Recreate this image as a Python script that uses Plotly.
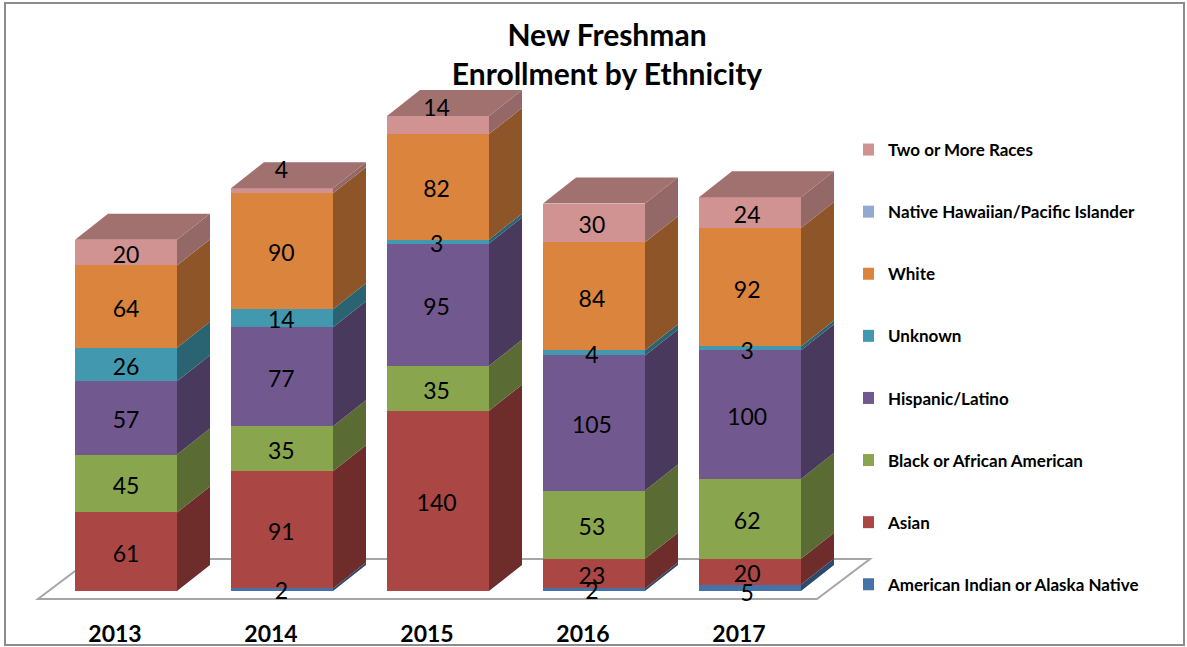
import plotly.graph_objects as go

years = ["2013", "2014", "2015", "2016", "2017"]
american_indian = [0, 2, 0, 2, 5]
asian = [61, 91, 140, 23, 20]
black = [45, 35, 35, 53, 62]
hispanic = [57, 77, 95, 105, 100]
unknown = [26, 14, 3, 4, 3]
white = [64, 90, 82, 84, 92]
hawaiian = [0, 0, 0, 0, 0]
two_more = [20, 4, 14, 30, 24]

series = [
    ("American Indian or Alaska Native", american_indian, "#4572A7", "#2D4A6D"),
    ("Asian", asian, "#AA4643", "#6E2D2B"),
    ("Black or African American", black, "#89A54E", "#5A6B33"),
    ("Hispanic/Latino", hispanic, "#71588F", "#49395D"),
    ("Unknown", unknown, "#4198AF", "#2A6372"),
    ("White", white, "#DB843D", "#8E5628"),
    ("Native Hawaiian/Pacific Islander", hawaiian, "#93A9CF", "#606E87"),
    ("Two or More Races", two_more, "#D19392", "#946866"),
]
top_colour = "#A0716F"

# label nudges (series name, year index) -> value units
label_nudge = {("Two or More Races", 2): 15, ("Two or More Races", 1): 18,
               ("American Indian or Alaska Native", 4): -2,
               ("American Indian or Alaska Native", 1): 1,
               ("American Indian or Alaska Native", 3): 1}

W, H = 1187, 647
PX_X = 156.0      # px per category
PX_Y = 1.287      # px per value unit
X0, Y0 = 126.0, 591.0  # pixel of first category, value 0
BOTTOM = 618.0
BAR_W = 102 / PX_X
DX = 33 / PX_X
DY = 26 / PX_Y
LABEL_DROP = 3.5 / PX_Y * PX_Y  # value units, centres the digits on their segment
LABEL_DRIFT = 0.7 / PX_X        # category units per category


def vx(px):
    return (px - X0) / PX_X


def vy(py):
    return (Y0 - py) / PX_Y


fig = go.Figure()
xs = list(range(len(years)))

for rank, (name, vals, col, dark) in enumerate(series):
    fig.add_trace(go.Bar(x=xs, y=vals, name=name, width=BAR_W, legendgroup=name,
                         legendrank=1000 - rank,
                         marker=dict(color=col, line=dict(width=0)), hoverinfo="skip"))

base = [0] * len(years)
lx, ly, lt = [], [], []
for name, vals, col, dark in series:
    px_, py_ = [], []
    for i, v in enumerate(vals):
        if v > 0:
            r = i + BAR_W / 2
            b, t = base[i], base[i] + v
            px_ += [r, r + DX, r + DX, r, r, None]
            py_ += [b, b + DY, t + DY, t, b, None]
            lx.append(i - i * LABEL_DRIFT)
            ly.append((b + t) / 2 - LABEL_DROP + label_nudge.get((name, i), 0))
            lt.append(str(v))
    if px_:
        fig.add_trace(go.Scatter(x=px_, y=py_, mode="lines", fill="toself", fillcolor=dark,
                                 line=dict(width=0), showlegend=False, hoverinfo="skip"))
    base = [a + c for a, c in zip(base, vals)]

# top caps
tx, ty = [], []
for i, t in enumerate(base):
    l, r = i - BAR_W / 2, i + BAR_W / 2
    tx += [l, r, r + DX, l + DX, l, None]
    ty += [t, t, t + DY, t + DY, t, None]
fig.add_trace(go.Scatter(x=tx, y=ty, mode="lines", fill="toself", fillcolor=top_colour,
                         line=dict(width=0), showlegend=False, hoverinfo="skip"))

fig.add_trace(go.Scatter(x=lx, y=ly, text=lt, mode="text", textposition="middle center",
                         textfont=dict(family="Lato", size=23, color="#000000"),
                         showlegend=False, hoverinfo="skip", cliponaxis=False))

# floor outline, below bars
fx = [38, 817, 870, 91, 38]
fy = [599, 599, 559, 559, 599]
path = "M" + " L".join(f"{vx(a)},{vy(b)}" for a, b in zip(fx, fy)) + " Z"

fig.update_layout(
    width=W, height=H, autosize=False, barmode="stack", bargap=0,
    paper_bgcolor="#FFFFFF", plot_bgcolor="rgba(0,0,0,0)",
    margin=dict(l=0, r=0, t=0, b=H - BOTTOM, pad=0),
    title=dict(text="New Freshman<br>Enrollment by Ethnicity", x=607 / W, xanchor="center",
               y=1 - 46 / H, yanchor="middle", xref="paper", yref="container",
               font=dict(family="Lato", size=30, color="#000000", weight=700)),
    xaxis=dict(range=[vx(0), vx(W)], tickmode="array", tickvals=[i - 11 / PX_X for i in xs],
               ticktext=years, showgrid=False, zeroline=False, showline=False, ticks="",
               tickfont=dict(family="Lato", size=23, color="#000000", weight=700), fixedrange=True),
    yaxis=dict(range=[vy(BOTTOM), vy(0)], visible=False, fixedrange=True),
    legend=dict(x=863 / W, xanchor="left", y=1 - 132 / BOTTOM, yanchor="top",
                traceorder="grouped", tracegroupgap=37, itemclick=False, itemdoubleclick=False,
                bgcolor="rgba(0,0,0,0)", indentation=-15,
                font=dict(family="Lato", size=17, color="#000000", weight=700)),
    showlegend=True,
)
fig.add_shape(type="path", path=path, xref="x", yref="y", layer="below",
              line=dict(color="#A6A6A6", width=2), fillcolor="#FFFFFF")
fig.add_shape(type="rect", xref="x", yref="paper", x0=vx(5), x1=vx(1184),
              y0=(BOTTOM - 645) / BOTTOM, y1=(BOTTOM - 3) / BOTTOM,
              line=dict(color="#8C8C8C", width=2), fillcolor="rgba(0,0,0,0)", layer="above")
fig.write_html("out.html", config={"displayModeBar": False},
               post_script="document.body.style.margin='0';")
